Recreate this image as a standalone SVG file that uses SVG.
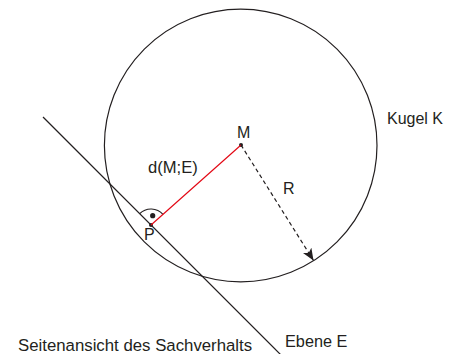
<svg xmlns="http://www.w3.org/2000/svg" width="454" height="354" viewBox="0 0 454 354">
<style>
  .lbl { font-family: "Liberation Sans", Arial, sans-serif; font-size: 16px; fill: #231f20; }
  .ln { fill: none; stroke: #231f20; stroke-width: 1.2; }
</style>
<defs>
  <marker id="arr" viewBox="0 0 12 10" refX="12" refY="5" markerWidth="12" markerHeight="10" markerUnits="userSpaceOnUse" orient="auto">
    <path d="M0,0 L12,5 L0,10 L3,5 Z" fill="#231f20"/>
  </marker>
</defs>
<rect width="454" height="354" fill="#ffffff"/>
<g id="kugel">
  <circle class="ln" cx="240.7" cy="145.5" r="136.3"/>
  <text class="lbl" x="387" y="124">Kugel K</text>
</g>
<g id="ebene">
  <line class="ln" x1="43" y1="117" x2="281" y2="355"/>
  <text class="lbl" x="285" y="347" style="font-size:16.3px">Ebene E</text>
</g>
<g id="M">
  <circle cx="241" cy="145" r="2" fill="#231f20"/>
  <text class="lbl" x="237" y="138">M</text>
</g>
<g id="P">
  <circle cx="151" cy="225" r="2" fill="#231f20"/>
  <text class="lbl" x="144" y="240">P</text>
  <path class="ln" d="M139.7,213.7 A16,16 0 0 1 163,214.4"/>
  <circle cx="152.7" cy="215.7" r="2.6" fill="#231f20"/>
</g>
<g id="connectors">
  <line x1="241" y1="145" x2="151" y2="225" stroke="#e30613" stroke-width="1.2"/>
  <line class="ln" x1="241" y1="145" x2="313.5" y2="260.5" stroke-dasharray="4 3" marker-end="url(#arr)"/>
</g>
<text class="lbl" x="148" y="173" style="font-size:16.6px">d(M;E)</text>
<text class="lbl" x="283" y="194">R</text>
<text class="lbl" x="18" y="351" style="font-size:16.8px">Seitenansicht des Sachverhalts</text>
</svg>
